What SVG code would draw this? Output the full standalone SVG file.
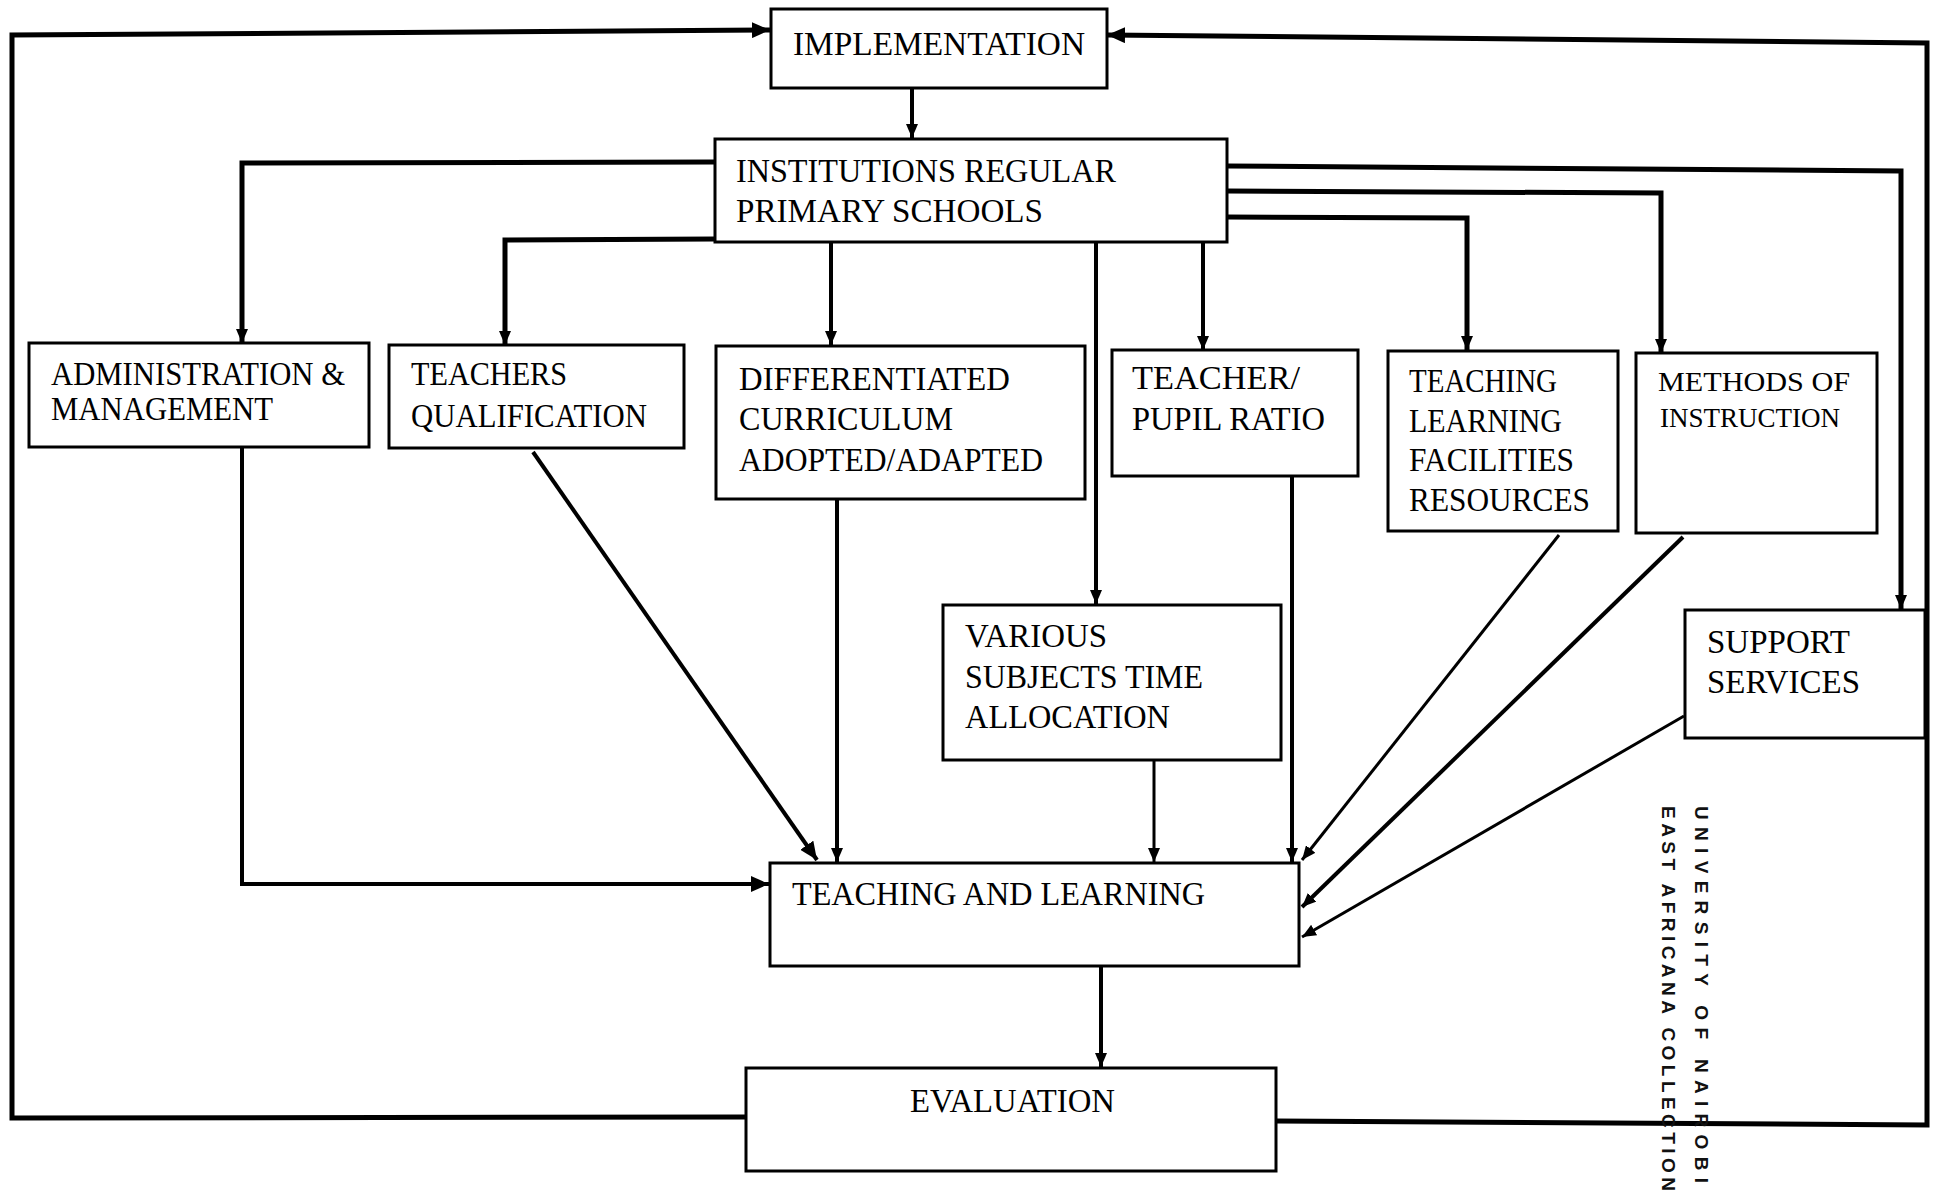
<svg xmlns="http://www.w3.org/2000/svg" width="1933" height="1197" viewBox="0 0 1933 1197">
<style>
.box{fill:#fff;stroke:#000;stroke-width:3}
.t{font-family:"Liberation Serif","Times New Roman",serif;font-size:33px;fill:#000}
.s{font-size:27px}
.c{fill:none;stroke:#000;stroke-linejoin:miter}
.w5{stroke-width:5}
.w4{stroke-width:4}
.w3{stroke-width:3}
.wm{font-family:"Liberation Sans",Arial,sans-serif;font-weight:bold;font-size:19px;fill:#111}
</style>
<defs>
<marker id="ah" markerUnits="userSpaceOnUse" markerWidth="14" markerHeight="12" refX="14" refY="6" orient="auto"><path d="M0,0 L14,6 L0,12 z" fill="#000"/></marker>
<marker id="ahL" markerUnits="userSpaceOnUse" markerWidth="18" markerHeight="16" refX="18" refY="8" orient="auto"><path d="M0,0 L18,8 L0,16 z" fill="#000"/></marker>
</defs>
<rect width="1933" height="1197" fill="#fff"/>
<g id="connectors">
<polyline class="c w5" points="746,1117 12,1118 12,35 770,30" marker-end="url(#ahL)"/>
<polyline class="c w5" points="1276,1121 1927,1125 1927,43 1107,35" marker-end="url(#ahL)"/>
<line class="c w4" x1="912" y1="88" x2="912" y2="138" marker-end="url(#ah)"/>
<polyline class="c w5" points="715,162 242,163 242,343" marker-end="url(#ah)"/>
<polyline class="c w5" points="715,239 505,240 505,345" marker-end="url(#ah)"/>
<line class="c w4" x1="831" y1="243" x2="831" y2="345" marker-end="url(#ah)"/>
<line class="c w4" x1="1096" y1="243" x2="1096" y2="604" marker-end="url(#ah)"/>
<line class="c w4" x1="1203" y1="243" x2="1203" y2="350" marker-end="url(#ah)"/>
<polyline class="c w5" points="1227,217 1467,218 1467,350" marker-end="url(#ah)"/>
<polyline class="c w5" points="1227,191 1661,193 1661,353" marker-end="url(#ah)"/>
<polyline class="c w5" points="1227,166 1901,171 1901,609" marker-end="url(#ah)"/>
<polyline class="c w4" points="242,447 242,884 769,884" marker-end="url(#ahL)"/>
<line class="c w4" x1="533" y1="452" x2="817" y2="860" marker-end="url(#ahL)"/>
<line class="c w4" x1="837" y1="499" x2="837" y2="862" marker-end="url(#ah)"/>
<line class="c w3" x1="1154" y1="761" x2="1154" y2="862" marker-end="url(#ah)"/>
<line class="c w4" x1="1292" y1="476" x2="1292" y2="862" marker-end="url(#ah)"/>
<line class="c w3" x1="1559" y1="535" x2="1302" y2="860" marker-end="url(#ah)"/>
<line class="c w4" x1="1683" y1="537" x2="1302" y2="907" marker-end="url(#ah)"/>
<line class="c w3" x1="1684" y1="716" x2="1302" y2="937" marker-end="url(#ah)"/>
<line class="c w4" x1="1101" y1="967" x2="1101" y2="1067" marker-end="url(#ah)"/>
</g>
<g id="implementation">
<rect class="box" x="771" y="9" width="336" height="79"/>
<text class="t" x="793" y="55" textLength="292" lengthAdjust="spacingAndGlyphs">IMPLEMENTATION</text>
</g>
<g id="institutions">
<rect class="box" x="715" y="139" width="512" height="103"/>
<text class="t" x="736" y="182" textLength="380" lengthAdjust="spacingAndGlyphs">INSTITUTIONS REGULAR</text>
<text class="t" x="736" y="222" textLength="307" lengthAdjust="spacingAndGlyphs">PRIMARY SCHOOLS</text>
</g>
<g id="administration">
<rect class="box" x="29" y="343" width="340" height="104"/>
<text class="t" x="51" y="385" textLength="294" lengthAdjust="spacingAndGlyphs">ADMINISTRATION &amp;</text>
<text class="t" x="51" y="420" textLength="222" lengthAdjust="spacingAndGlyphs">MANAGEMENT</text>
</g>
<g id="teachers-qualification">
<rect class="box" x="389" y="345" width="295" height="103"/>
<text class="t" x="411" y="385" textLength="156" lengthAdjust="spacingAndGlyphs">TEACHERS</text>
<text class="t" x="411" y="427" textLength="236" lengthAdjust="spacingAndGlyphs">QUALIFICATION</text>
</g>
<g id="differentiated-curriculum">
<rect class="box" x="716" y="346" width="369" height="153"/>
<text class="t" x="739" y="390" textLength="271" lengthAdjust="spacingAndGlyphs">DIFFERENTIATED</text>
<text class="t" x="739" y="430" textLength="214" lengthAdjust="spacingAndGlyphs">CURRICULUM</text>
<text class="t" x="739" y="471" textLength="304" lengthAdjust="spacingAndGlyphs">ADOPTED/ADAPTED</text>
</g>
<g id="teacher-pupil-ratio">
<rect class="box" x="1112" y="350" width="246" height="126"/>
<text class="t" x="1132" y="389" textLength="168" lengthAdjust="spacingAndGlyphs">TEACHER/</text>
<text class="t" x="1132" y="430" textLength="193" lengthAdjust="spacingAndGlyphs">PUPIL RATIO</text>
</g>
<g id="teaching-learning-facilities">
<rect class="box" x="1388" y="351" width="230" height="180"/>
<text class="t" x="1409" y="392" textLength="148" lengthAdjust="spacingAndGlyphs">TEACHING</text>
<text class="t" x="1409" y="432" textLength="153" lengthAdjust="spacingAndGlyphs">LEARNING</text>
<text class="t" x="1409" y="471" textLength="165" lengthAdjust="spacingAndGlyphs">FACILITIES</text>
<text class="t" x="1409" y="511" textLength="181" lengthAdjust="spacingAndGlyphs">RESOURCES</text>
</g>
<g id="methods-of-instruction">
<rect class="box" x="1636" y="353" width="241" height="180"/>
<text class="t s" x="1658" y="391" textLength="192" lengthAdjust="spacingAndGlyphs">METHODS OF</text>
<text class="t s" x="1660" y="427" textLength="180" lengthAdjust="spacingAndGlyphs">INSTRUCTION</text>
</g>
<g id="various-subjects">
<rect class="box" x="943" y="605" width="338" height="155"/>
<text class="t" x="965" y="647" textLength="142" lengthAdjust="spacingAndGlyphs">VARIOUS</text>
<text class="t" x="965" y="688" textLength="238" lengthAdjust="spacingAndGlyphs">SUBJECTS TIME</text>
<text class="t" x="965" y="728" textLength="205" lengthAdjust="spacingAndGlyphs">ALLOCATION</text>
</g>
<g id="support-services">
<rect class="box" x="1685" y="610" width="240" height="128"/>
<text class="t" x="1707" y="653" textLength="143" lengthAdjust="spacingAndGlyphs">SUPPORT</text>
<text class="t" x="1707" y="693" textLength="153" lengthAdjust="spacingAndGlyphs">SERVICES</text>
</g>
<g id="teaching-and-learning">
<rect class="box" x="770" y="863" width="529" height="103"/>
<text class="t" x="792" y="905" textLength="413" lengthAdjust="spacingAndGlyphs">TEACHING AND LEARNING</text>
</g>
<g id="evaluation">
<rect class="box" x="746" y="1068" width="530" height="103"/>
<text class="t" x="910" y="1112" textLength="205" lengthAdjust="spacingAndGlyphs">EVALUATION</text>
</g>
<g id="watermark">
<text class="wm" transform="translate(1695,806) rotate(90)" textLength="377" lengthAdjust="spacing">UNIVERSITY OF NAIROBI</text>
<text class="wm" transform="translate(1662,806) rotate(90)" textLength="385" lengthAdjust="spacing">EAST AFRICANA COLLECTION</text>
</g>
</svg>
